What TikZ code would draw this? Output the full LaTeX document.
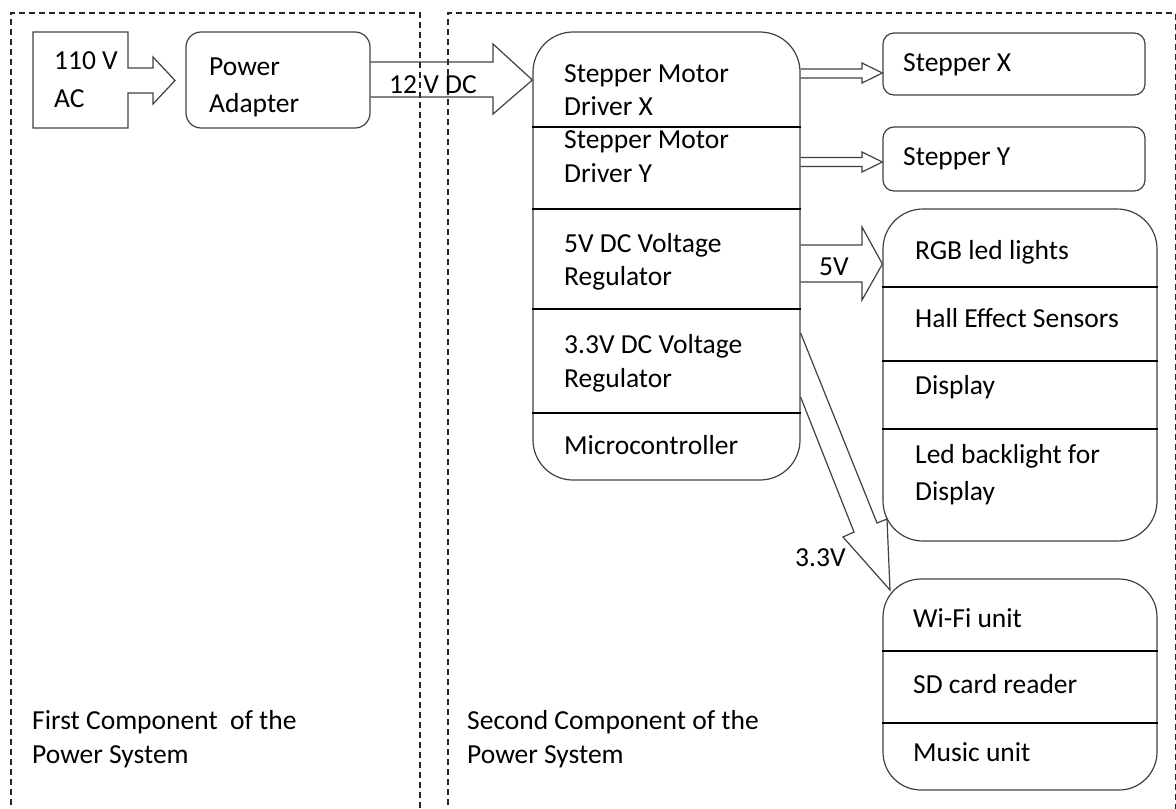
\documentclass[tikz,border=0pt]{standalone}
\usepackage{fontspec}
\setmainfont{Carlito}
\begin{document}
\begin{tikzpicture}[x=1pt,y=-1pt,
  lbl/.style={anchor=base west, inner sep=0pt, font=\fontsize{27.5}{33}\selectfont},
  rbox/.style={draw=black!75, line width=1.2pt, inner sep=0pt},
  divider/.style={draw=black, line width=1.1pt},
  blockarrow/.style={draw=black!75, line width=1.2pt, line join=miter},
  frame/.style={draw=black!85, line width=1.2pt, dash pattern=on 6pt off 4pt}]
\useasboundingbox (0,0) rectangle (1176,809);
% dashed frames
\draw[frame] (11,815) -- (11,13) -- (420,13) -- (420,815);
\draw[frame] (448,815) -- (448,13) -- (1175.5,13) -- (1175.5,815);

% boxes
\node[rbox, rounded corners=15pt, minimum width=184pt, minimum height=96pt] (pa) at (278,80) {};
\node[rbox, rounded corners=40pt, minimum width=267pt, minimum height=448pt] (main) at (666.5,256) {};
\node[rbox, rounded corners=11pt, minimum width=262pt, minimum height=62pt] (sx) at (1014,64) {};
\node[rbox, rounded corners=11pt, minimum width=262pt, minimum height=64pt] (sy) at (1014,159) {};
\node[rbox, rounded corners=40pt, minimum width=274pt, minimum height=332pt] (peri) at (1020,375) {};
\node[rbox, rounded corners=38pt, minimum width=274pt, minimum height=211pt] (comm) at (1020,684.5) {};

% dividers
\foreach \yy in {127,209,309,413} \draw[divider] (main.west |- 0,\yy) -- (main.east |- 0,\yy);
\foreach \yy in {287,361,429} \draw[divider] (peri.west |- 0,\yy) -- (peri.east |- 0,\yy);
\foreach \yy in {651,723} \draw[divider] (comm.west |- 0,\yy) -- (comm.east |- 0,\yy);

% 110 V AC source shape
\draw[blockarrow] (33,32) -- (128,32) -- (128,68) -- (153,68) -- (153,57) -- (175,80.5)
  -- (153,104) -- (153,93) -- (128,93) -- (128,128) -- (33,128) -- cycle;
\coordinate (actip) at (175,80.5);

% block arrows
\draw[blockarrow] (pa.east |- 0,62) -- (493,62) -- (493,44) -- (main.west |- 0,80) -- (493,114) -- (493,97) -- (pa.east |- 0,97);
\draw[blockarrow] (main.east |- 0,69) -- (862,69) -- (862,63) -- (sx.west |- 0,73) -- (862,83) -- (862,78) -- (main.east |- 0,78);
\draw[blockarrow] (main.east |- 0,157.5) -- (862,157.5) -- (862,152) -- (sy.west |- 0,162) -- (862,172) -- (862,166.5) -- (main.east |- 0,166.5);
\draw[blockarrow] (main.east |- 0,245) -- (862,245) -- (862,227) -- (peri.west |- 0,264) -- (862,300) -- (862,282) -- (main.east |- 0,282);
\coordinate (wtip) at (890,590);
\draw[blockarrow] (main.east |- 0,333) -- (877,523) -- (887,519) -- (wtip) -- (843,537) -- (854,532) -- (main.east |- 0,397);

% texts
\node[lbl] (t1) at (54,69) {110 V};
\node[lbl] (t2) at (54,107) {AC};
\node[lbl] (t3) at (209,75) {Power};
\node[lbl] (t4) at (209,112) {Adapter};
\node[lbl] (t5) at (389,93) {12 V DC};
\node[lbl] (t6) at (564,82) {Stepper Motor};
\node[lbl] (t7) at (564,115) {Driver X};
\node[lbl] (t8) at (564,148) {Stepper Motor};
\node[lbl] (t9) at (564,182) {Driver Y};
\node[lbl] (t10) at (564,252) {5V DC Voltage};
\node[lbl] (t11) at (564,285) {Regulator};
\node[lbl] (t12) at (564,353) {3.3V DC Voltage};
\node[lbl] (t13) at (564,387) {Regulator};
\node[lbl] (t14) at (564,454) {Microcontroller};
\node[lbl] (t15) at (903,71) {Stepper X};
\node[lbl] (t16) at (903,165) {Stepper Y};
\node[lbl] (t17) at (819,275) {5V};
\node[lbl] (t18) at (915,259) {RGB led lights};
\node[lbl] (t19) at (915,327) {Hall Effect Sensors};
\node[lbl] (t20) at (915,394) {Display};
\node[lbl] (t21) at (915,463) {Led backlight for};
\node[lbl] (t22) at (915,500) {Display};
\node[lbl] (t23) at (795,566) {3.3V};
\node[lbl] (t24) at (913,627) {Wi-Fi unit};
\node[lbl] (t25) at (913,693) {SD card reader};
\node[lbl] (t26) at (913,761) {Music unit};
\node[lbl] (t27) at (32,729) {First Component~ of the};
\node[lbl] (t28) at (32,763) {Power System};
\node[lbl] (t29) at (467,729) {Second Component of the};
\node[lbl] (t30) at (467,763) {Power System};
\end{tikzpicture}
\end{document}
